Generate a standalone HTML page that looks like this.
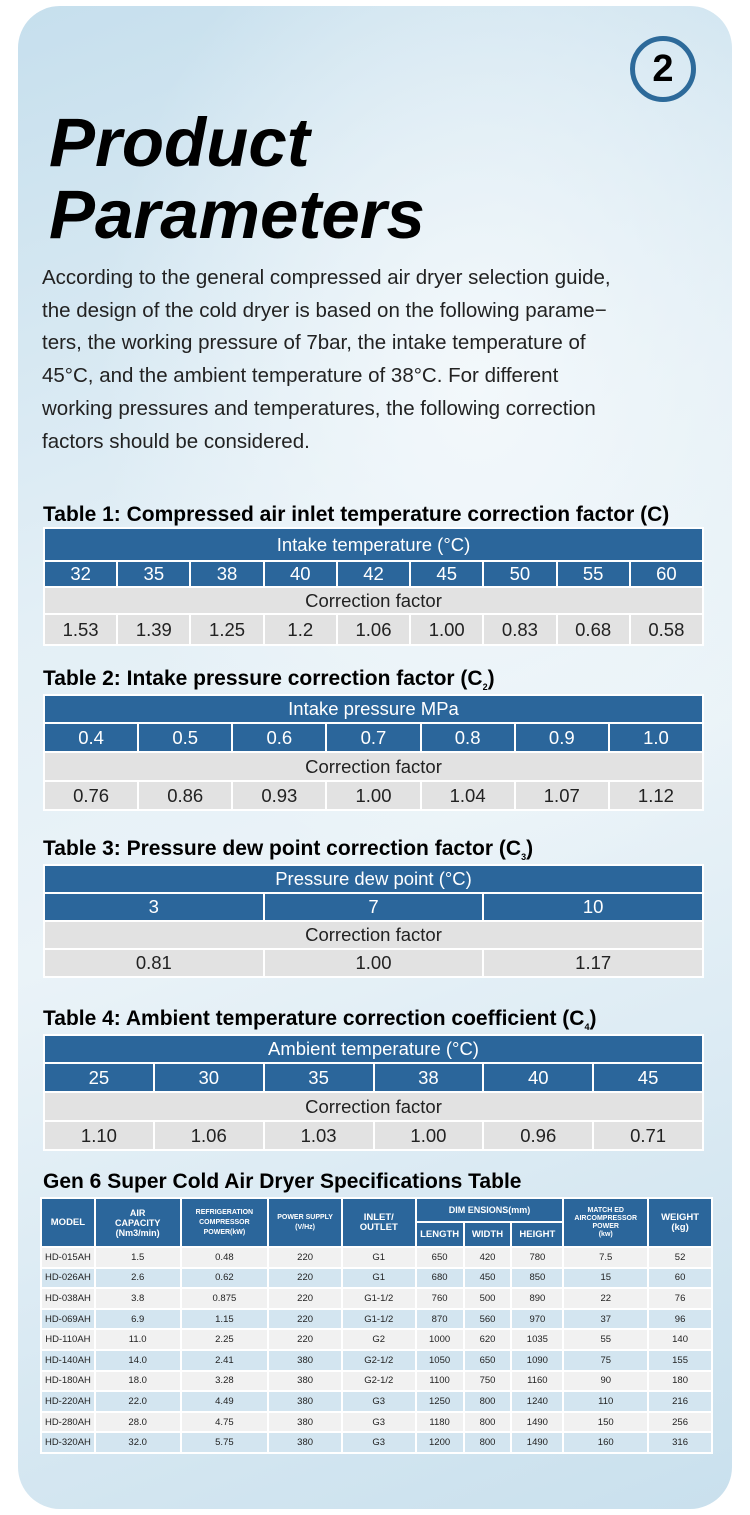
<!DOCTYPE html>
<html><head><meta charset="utf-8"><style>
*{margin:0;padding:0;box-sizing:border-box}
body{width:750px;height:1515px;background:#fff;position:relative;font-family:"Liberation Sans",sans-serif;overflow:hidden}
.card{position:absolute;left:18px;top:6px;width:714px;height:1503px;border-radius:42px;
background:radial-gradient(ellipse 380px 520px at 460px 380px,#f3f8fb 0%,rgba(243,248,251,0) 100%),linear-gradient(160deg,#c6dfed 0%,#e3eff6 35%,#eaf3f8 55%,#d7e8f2 80%,#c9e0ed 100%)}
.circ{position:absolute;left:630px;top:36px;width:66px;height:66px;border:5px solid #2d6a9a;border-radius:50%;text-align:center;line-height:56px;font-weight:bold;font-size:38px;color:#000}
.title{position:absolute;left:49px;font-weight:bold;font-style:italic;font-size:69px;color:#000}
.para{position:absolute;left:42px;top:262px;width:680px;font-size:20.5px;line-height:32.7px;color:#222;white-space:nowrap}
.tt{position:absolute;left:43px;font-weight:bold;font-size:21px;color:#000;white-space:nowrap}
.tbl{position:absolute;left:43px;width:661px;background:#fff;display:grid;gap:2px;padding:2px}
.tbl div{display:flex;align-items:center;justify-content:center;font-size:18.5px}
.b{background:#2b669b;color:#fff}
.g{background:#e2e2e2;color:#222}
.spec{position:absolute;left:40px;top:1197px;width:673px;border-collapse:collapse;background:#fff}
.spec td{border:2px solid #fff;text-align:center;font-size:9.5px;color:#222;height:20.6px;padding:0}
.spec .h td{background:#2b669b;color:#fff;font-size:8px;font-weight:bold;line-height:10px}
.spec tr:nth-child(odd):not(.h) td{background:#f1f1f1}
.spec tr:nth-child(even):not(.h) td{background:#d3e5f0}
</style></head><body>
<div class="card"></div>
<div class="circ">2</div>
<div class="title" style="top:103px">Product</div>
<div class="title" style="top:175px">Parameters</div>
<div class="para">According to the general compressed air dryer selection guide,<br>the design of the cold dryer is based on the following parame−<br>ters, the working pressure of 7bar, the intake temperature of<br>45°C, and the ambient temperature of 38°C. For different<br>working pressures and temperatures, the following correction<br>factors should be considered.</div>

<div class="tt" style="top:503px">Table 1: Compressed air inlet temperature correction factor (C)</div>
<div class="tbl" style="top:527px;grid-template-columns:repeat(9,1fr);grid-template-rows:31px 24px 25px 29px">
<div class="b" style="grid-column:1/10">Intake temperature (°C)</div>
<div class="b">32</div><div class="b">35</div><div class="b">38</div><div class="b">40</div><div class="b">42</div><div class="b">45</div><div class="b">50</div><div class="b">55</div><div class="b">60</div>
<div class="g" style="grid-column:1/10">Correction factor</div>
<div class="g">1.53</div><div class="g">1.39</div><div class="g">1.25</div><div class="g">1.2</div><div class="g">1.06</div><div class="g">1.00</div><div class="g">0.83</div><div class="g">0.68</div><div class="g">0.58</div>
</div>

<div class="tt" style="top:667px">Table 2: Intake pressure correction factor (C<sub style="font-size:9px">2</sub>)</div>
<div class="tbl" style="top:694px;grid-template-columns:repeat(7,1fr);grid-template-rows:26px 27px 27px 27px">
<div class="b" style="grid-column:1/8">Intake pressure MPa</div>
<div class="b">0.4</div><div class="b">0.5</div><div class="b">0.6</div><div class="b">0.7</div><div class="b">0.8</div><div class="b">0.9</div><div class="b">1.0</div>
<div class="g" style="grid-column:1/8">Correction factor</div>
<div class="g">0.76</div><div class="g">0.86</div><div class="g">0.93</div><div class="g">1.00</div><div class="g">1.04</div><div class="g">1.07</div><div class="g">1.12</div>
</div>

<div class="tt" style="top:837px">Table 3: Pressure dew point correction factor (C<sub style="font-size:9px">3</sub>)</div>
<div class="tbl" style="top:864px;grid-template-columns:repeat(3,1fr);grid-template-rows:26px 26px 26px 26px">
<div class="b" style="grid-column:1/4">Pressure dew point (°C)</div>
<div class="b">3</div><div class="b">7</div><div class="b">10</div>
<div class="g" style="grid-column:1/4">Correction factor</div>
<div class="g">0.81</div><div class="g">1.00</div><div class="g">1.17</div>
</div>

<div class="tt" style="top:1007px">Table 4: Ambient temperature correction coefficient (C<sub style="font-size:9px">4</sub>)</div>
<div class="tbl" style="top:1034px;grid-template-columns:repeat(6,1fr);grid-template-rows:26px 27px 27px 27px">
<div class="b" style="grid-column:1/7">Ambient temperature (°C)</div>
<div class="b">25</div><div class="b">30</div><div class="b">35</div><div class="b">38</div><div class="b">40</div><div class="b">45</div>
<div class="g" style="grid-column:1/7">Correction factor</div>
<div class="g">1.10</div><div class="g">1.06</div><div class="g">1.03</div><div class="g">1.00</div><div class="g">0.96</div><div class="g">0.71</div>
</div>

<div class="tt" style="top:1170px">Gen 6 Super Cold Air Dryer Specifications Table</div>
<table class="spec">
<colgroup><col style="width:54px"><col style="width:86px"><col style="width:88px"><col style="width:74px"><col style="width:74px"><col style="width:48px"><col style="width:48px"><col style="width:52px"><col style="width:85px"><col style="width:64px"></colgroup>
<tr class="h"><td rowspan="2" style="font-size:9.5px">MODEL</td><td rowspan="2" style="font-size:9px">AIR<br>CAPACITY<br>(Nm3/min)</td><td rowspan="2" style="font-size:7px">REFRIGERATION<br>COMPRESSOR<br>POWER(kW)</td><td rowspan="2" style="font-size:7px">POWER SUPPLY<br>(V/Hz)</td><td rowspan="2" style="font-size:9.5px">INLET/<br>OUTLET</td><td colspan="3" style="font-size:9px;height:24px">DIM ENSIONS(mm)</td><td rowspan="2" style="font-size:7px;line-height:8px">MATCH ED<br>AIRCOMPRESSOR<br>POWER<br>(kw)</td><td rowspan="2" style="font-size:9.5px">WEIGHT<br>(kg)</td></tr>
<tr class="h"><td style="font-size:9.5px;height:25px">LENGTH</td><td style="font-size:9.5px">WIDTH</td><td style="font-size:9.5px">HEIGHT</td></tr>
<tr><td>HD-015AH</td><td>1.5</td><td>0.48</td><td>220</td><td>G1</td><td>650</td><td>420</td><td>780</td><td>7.5</td><td>52</td></tr>
<tr><td>HD-026AH</td><td>2.6</td><td>0.62</td><td>220</td><td>G1</td><td>680</td><td>450</td><td>850</td><td>15</td><td>60</td></tr>
<tr><td>HD-038AH</td><td>3.8</td><td>0.875</td><td>220</td><td>G1-1/2</td><td>760</td><td>500</td><td>890</td><td>22</td><td>76</td></tr>
<tr><td>HD-069AH</td><td>6.9</td><td>1.15</td><td>220</td><td>G1-1/2</td><td>870</td><td>560</td><td>970</td><td>37</td><td>96</td></tr>
<tr><td>HD-110AH</td><td>11.0</td><td>2.25</td><td>220</td><td>G2</td><td>1000</td><td>620</td><td>1035</td><td>55</td><td>140</td></tr>
<tr><td>HD-140AH</td><td>14.0</td><td>2.41</td><td>380</td><td>G2-1/2</td><td>1050</td><td>650</td><td>1090</td><td>75</td><td>155</td></tr>
<tr><td>HD-180AH</td><td>18.0</td><td>3.28</td><td>380</td><td>G2-1/2</td><td>1100</td><td>750</td><td>1160</td><td>90</td><td>180</td></tr>
<tr><td>HD-220AH</td><td>22.0</td><td>4.49</td><td>380</td><td>G3</td><td>1250</td><td>800</td><td>1240</td><td>110</td><td>216</td></tr>
<tr><td>HD-280AH</td><td>28.0</td><td>4.75</td><td>380</td><td>G3</td><td>1180</td><td>800</td><td>1490</td><td>150</td><td>256</td></tr>
<tr><td>HD-320AH</td><td>32.0</td><td>5.75</td><td>380</td><td>G3</td><td>1200</td><td>800</td><td>1490</td><td>160</td><td>316</td></tr>
</table>
</body></html>
